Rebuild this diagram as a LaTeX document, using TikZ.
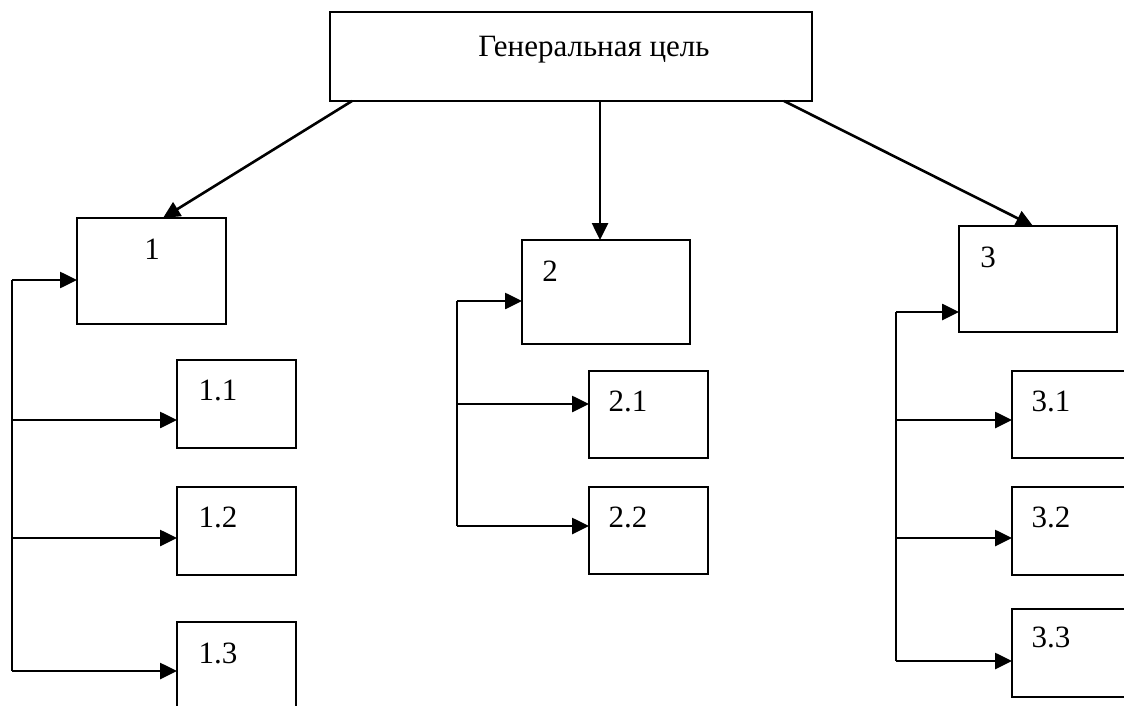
\documentclass[tikz,border=0pt]{standalone}
\usepackage{fontspec}
\setmainfont{Liberation Serif}
\usetikzlibrary{arrows.meta}

\tikzset{
  box/.style={draw, line width=1pt, inner sep=0pt, outer sep=0pt},
  lbl/.style={anchor=base, inner sep=0pt, font=\fontsize{15.5}{18}\selectfont},
  arr/.style={line width=1.3pt, -{Triangle[length=8.5pt,width=8pt]}},
  bus/.style={line width=1.3pt}
}

\begin{document}
\begin{tikzpicture}[x=0.5pt, y=-0.5pt]
\useasboundingbox (0,0) rectangle (1124,706);

% goal
\node[box, minimum width=241pt, minimum height=44.5pt] (top) at (571,56.5) {};
\node[lbl, anchor=base west] (ttop) at (478,57) {Генеральная цель};

% level 1
\node[box, minimum width=74.5pt, minimum height=53pt] (b1) at (151.5,271) {};
\node[lbl] (t1) at (152,259) {1};

\node[box, minimum width=84pt, minimum height=52pt] (b2) at (606,292) {};
\node[lbl] (t2) at (550,281) {2};

\node[box, minimum width=79pt, minimum height=53pt] (b3) at (1038,279) {};
\node[lbl] (t3) at (988,267) {3};

% level 2, branch 1
\node[box, minimum width=59.5pt, minimum height=44pt] (b11) at (236.5,404) {};
\node[lbl] (t11) at (218,400) {1.1};

\node[box, minimum width=59.5pt, minimum height=44pt] (b12) at (236.5,531) {};
\node[lbl] (t12) at (218,527) {1.2};

\node[box, minimum width=59.5pt, minimum height=44pt] (b13) at (236.5,666) {};
\node[lbl] (t13) at (218,663) {1.3};

% level 2, branch 2
\node[box, minimum width=59.5pt, minimum height=43.5pt] (b21) at (648.5,414.5) {};
\node[lbl] (t21) at (628,411) {2.1};

\node[box, minimum width=59.5pt, minimum height=43.5pt] (b22) at (648.5,530.5) {};
\node[lbl] (t22) at (628,527) {2.2};

% level 2, branch 3
\node[box, minimum width=59.5pt, minimum height=43.5pt] (b31) at (1071.5,414.5) {};
\node[lbl] (t31) at (1051,411) {3.1};

\node[box, minimum width=59.5pt, minimum height=44pt] (b32) at (1071.5,531) {};
\node[lbl] (t32) at (1051,527) {3.2};

\node[box, minimum width=59.5pt, minimum height=44pt] (b33) at (1071.5,653) {};
\node[lbl] (t33) at (1051,647) {3.3};

% goal to level 1
\draw[arr] ([xshift=11pt]top.south west) -- ([xshift=43pt]b1.north west);
\draw[arr] ([xshift=14.5pt]top.south) -- ([xshift=14.5pt]top.south |- b2.north);
\draw[arr] ([xshift=-14pt]top.south east) -- ([xshift=37pt]b3.north west);

% bus lines
\coordinate (s1) at (12,280);
\coordinate (s11) at (12,420);
\coordinate (s12) at (12,538);
\coordinate (s13) at (12,671);

\coordinate (s2) at (457,301);
\coordinate (s21) at (457,404);
\coordinate (s22) at (457,526);

\coordinate (s3) at (896,312);
\coordinate (s31) at (896,420);
\coordinate (s32) at (896,538);
\coordinate (s33) at (896,661);

\draw[bus] (s1) -- (s13);
\draw[bus] (s2) -- (s22);
\draw[bus] (s3) -- (s33);

\draw[arr] (s1) -- (s1 -| b1.west);
\draw[arr] (s11) -- (s11 -| b11.west);
\draw[arr] (s12) -- (s12 -| b12.west);
\draw[arr] (s13) -- (s13 -| b13.west);

\draw[arr] (s2) -- (s2 -| b2.west);
\draw[arr] (s21) -- (s21 -| b21.west);
\draw[arr] (s22) -- (s22 -| b22.west);

\draw[arr] (s3) -- (s3 -| b3.west);
\draw[arr] (s31) -- (s31 -| b31.west);
\draw[arr] (s32) -- (s32 -| b32.west);
\draw[arr] (s33) -- (s33 -| b33.west);

\end{tikzpicture}
\end{document}
